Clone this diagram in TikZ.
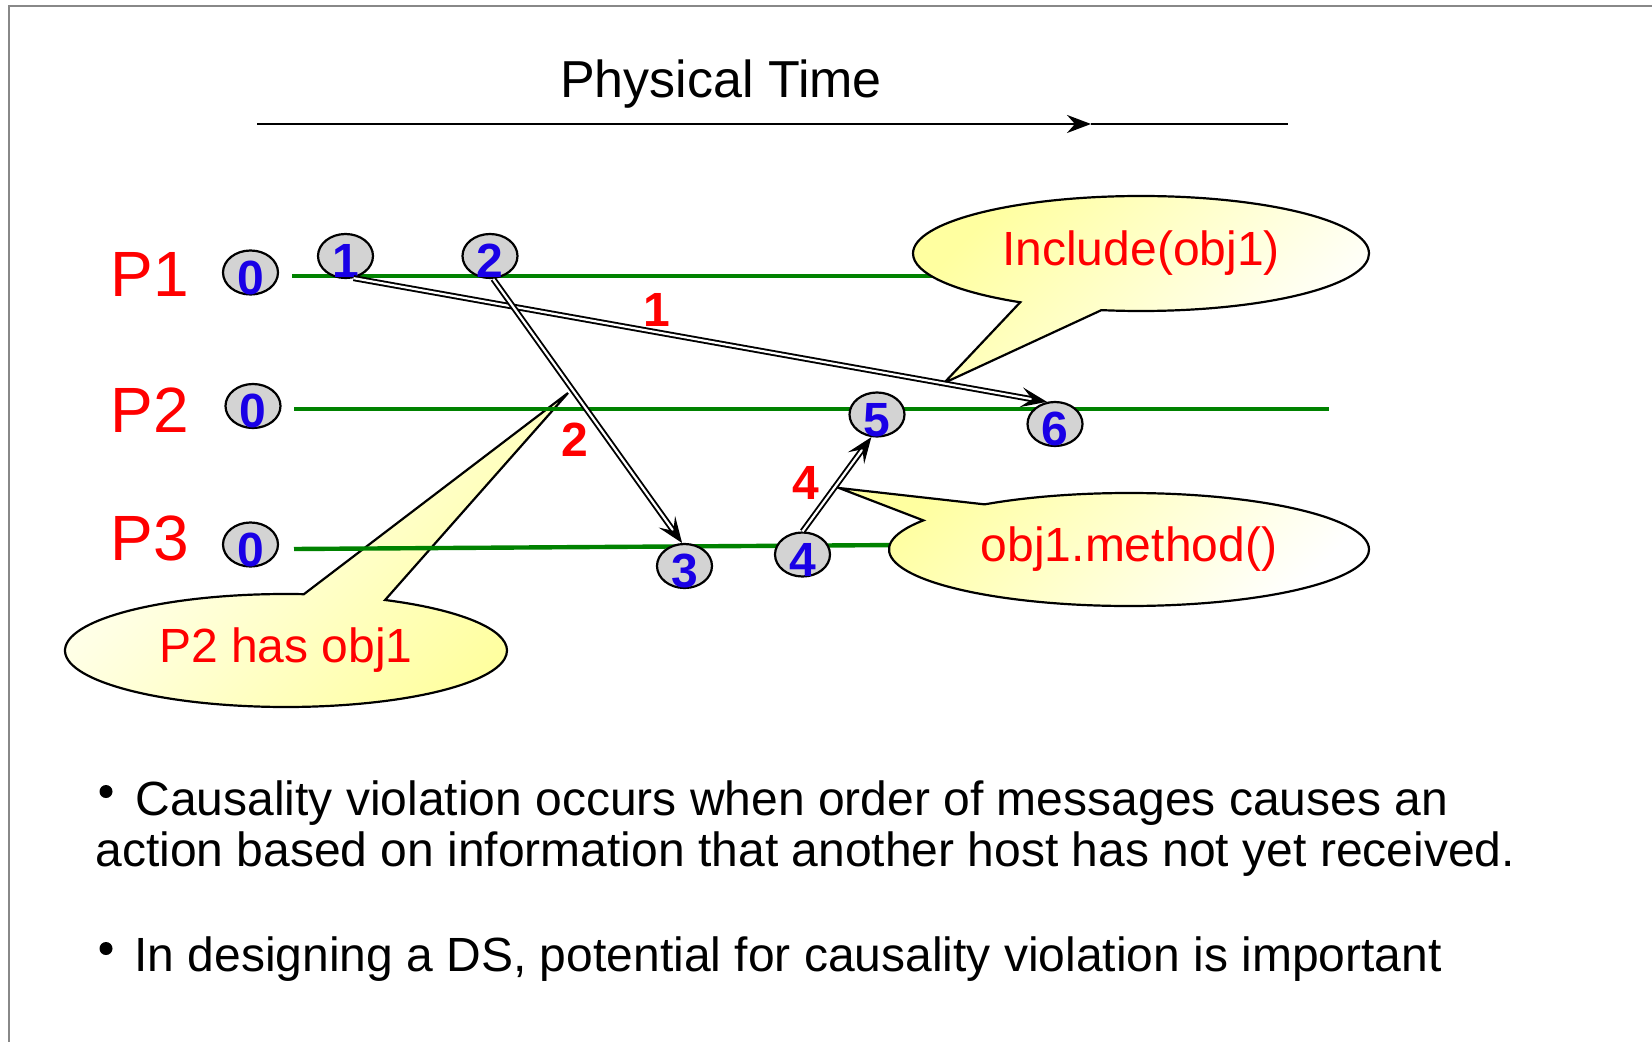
\documentclass[tikz,border=0pt]{standalone}
\usepackage{fontspec}
\setmainfont{Liberation Sans}
\usetikzlibrary{arrows.meta,shapes.geometric,shapes.callouts}
\definecolor{pblue}{RGB}{25,0,230}
\definecolor{pred}{RGB}{255,0,0}
\definecolor{pgreen}{RGB}{0,130,0}
\definecolor{evgray}{RGB}{211,211,211}
\definecolor{cyellow}{RGB}{255,255,160}
\definecolor{framegray}{RGB}{136,136,136}
\newcommand{\dg}[1]{\raisebox{-10.85pt}[0pt][0pt]{\makebox[0pt]{#1}}}
\begin{document}
\begin{tikzpicture}[x=0.5pt,y=-0.5pt,
  ev/.style={ellipse, draw=black, line width=1.1pt, fill=evgray, minimum width=27.5pt, minimum height=22pt, inner sep=0pt, text=pblue, font=\bfseries\fontsize{24pt}{24pt}\selectfont},
  plabel/.style={anchor=base west, inner sep=0pt, text=pred, font=\fontsize{32pt}{32pt}\selectfont},
  mlabel/.style={inner sep=0pt, text=pred, font=\bfseries\fontsize{24pt}{24pt}\selectfont},
  callbox/.style={ellipse callout, draw=black, line width=1.1pt, inner sep=0pt, callout pointer arc=22, text=pred, font=\fontsize{24pt}{24pt}\selectfont},
  life/.style={draw=pgreen, line width=2.2pt},
  msg/.style={draw=black, line width=0.95pt, double=white, double distance=1.1pt, -{Stealth[length=13pt,width=10pt,inset=5.5pt]}},
  btext/.style={anchor=base west, inner sep=0pt, font=\fontsize{24pt}{24pt}\selectfont},
  bulletdot/.style={circle, fill=black, inner sep=0pt, minimum size=6.5pt}
]
\useasboundingbox (0,0) rectangle (1652,1042);
% frame
\coordinate (f0) at (9,1042);
\coordinate (f1) at (9,6);
\coordinate (f2) at (1652,6);
\draw[framegray, line width=1pt] (f0) -- (f1) -- (f2);
% physical time
\node[anchor=base, inner sep=0pt, font=\fontsize{26pt}{26pt}\selectfont] (ptime) at (721,98) {Physical Time};
\coordinate (ta) at (257,124);
\coordinate (tb) at (1091,124);
\coordinate (tc) at (1288,124);
\draw[line width=1.4pt, -{Stealth[length=12pt,width=9pt,inset=4pt]}] (ta) -- (tb);
\draw[line width=1.4pt] (tb) -- (tc);
% process labels
\node[plabel] (p1) at (110,297) {P1};
\node[plabel] (p2) at (110,432) {P2};
\node[plabel] (p3) at (110,560) {P3};
% callout P2 has obj1 (below lifelines)
\coordinate (tipC) at (568,393);
\node[callbox, callout absolute pointer=(tipC), minimum width=221pt, minimum height=56.5pt, top color=white, bottom color=cyellow, shading angle=45] (c3) at (286,650.5) {P2 has obj1};
% lifelines
\coordinate (l1a) at (292,276);
\coordinate (l1b) at (960,276);
\coordinate (l2a) at (294,409);
\coordinate (l2b) at (1329,409);
\coordinate (l3a) at (294,549);
\coordinate (l3b) at (900,545);
\draw[life] (l1a) -- (l1b);
\draw[life] (l2a) -- (l2b);
\draw[life] (l3a) -- (l3b);
% callouts on top of lifelines
\coordinate (tipA) at (944,383);
\node[callbox, callout absolute pointer=(tipA), minimum width=228pt, minimum height=57.5pt, top color=cyellow, bottom color=white, shading angle=45] (c1) at (1141,253.5) {Include(obj1)};
\coordinate (tipB) at (839,488);
\node[callbox, callout absolute pointer=(tipB), minimum width=240pt, minimum height=56.5pt, top color=cyellow, bottom color=white, shading angle=45] (c2) at (1129,549.5) {obj1.method()};
% events
\node[ev] (z1) at (250.5,272.5) {\dg{0}};
\node[ev] (z2) at (253,406) {\dg{0}};
\node[ev] (z3) at (250.5,544.5) {\dg{0}};
\node[ev] (e1) at (345.5,256) {\dg{1}};
\node[ev] (e2) at (490,256) {\dg{2}};
\node[ev] (e3) at (684.5,566) {\dg{3}};
\node[ev] (e4) at (802.5,554.5) {\dg{4}};
\node[ev] (e5) at (877,414.5) {\dg{5}};
\node[ev] (e6) at (1055,424) {\dg{6}};
% messages
\draw[msg] (e1.-70) -- (e6.110);
\draw[msg] (e2.-82) -- (e3.96);
\draw[msg] (e4.north) -- (e5.-104);
\node[mlabel] (m1) at (657,309.5) {1};
\node[mlabel] (m2) at (575,440) {2};
\node[mlabel] (m4) at (806,483) {4};
% bullet text
\node[bulletdot] (b1) at (106,791.5) {};
\node[btext] (t1) at (135,815) {Causality violation occurs when order of messages causes an};
\node[btext] (t2) at (95,866) {action based on information that another host has not yet received.};
\node[bulletdot] (b2) at (106,948.5) {};
\node[btext] (t3) at (134,971) {In designing a DS, potential for causality violation is important};
\end{tikzpicture}
\end{document}
